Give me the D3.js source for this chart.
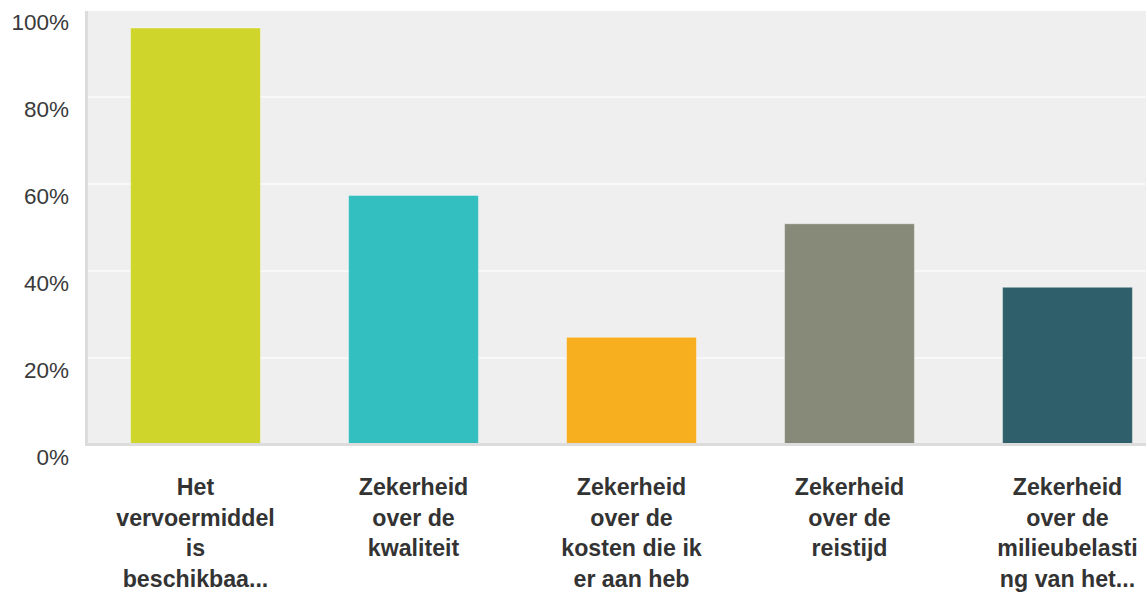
<!DOCTYPE html>
<html>
<head>
<meta charset="utf-8">
<script src="https://cdn.jsdelivr.net/npm/d3@7"></script>
<style>
  html, body { margin: 0; padding: 0; background: #ffffff; }
  svg { display: block; }
</style>
</head>
<body>
<svg id="chart" width="1146" height="594"></svg>
<script>
const categories = [
  "Het vervoermiddel is beschikbaa...",
  "Zekerheid over de kwaliteit",
  "Zekerheid over de kosten die ik er aan heb",
  "Zekerheid over de reistijd",
  "Zekerheid over de milieubelasting van het..."
];
const categoryLines = [
  ["Het", "vervoermiddel", "is", "beschikbaa..."],
  ["Zekerheid", "over de", "kwaliteit"],
  ["Zekerheid", "over de", "kosten die ik", "er aan heb"],
  ["Zekerheid", "over de", "reistijd"],
  ["Zekerheid", "over de", "milieubelasti", "ng van het..."]
];
const values = [96.2, 57.7, 25.1, 51.2, 36.6];
const colors = ["#cfd52b", "#33bebf", "#f7ae1f", "#888a79", "#2e5f6a"];
const yTicks = [0, 20, 40, 60, 80, 100];
const yTickLabels = ["0%", "20%", "40%", "60%", "80%", "100%"];

const svg = d3.select("#chart");
const plotLeft = 86, plotTop = 11, plotBottom = 446;
const x = d3.scaleBand().domain(categories).range([86.5, 1176.5]).paddingInner(0.4).paddingOuter(0.2);
const y = d3.scaleLinear().domain([0, 100]).range([446, 11]);

// plot background
svg.append("rect").attr("x", plotLeft).attr("y", plotTop)
  .attr("width", 1146 - plotLeft).attr("height", plotBottom - plotTop)
  .attr("fill", "#efefef");

// gridlines
svg.append("g").selectAll("line").data(yTicks.filter(d => d > 0 && d < 100)).join("line")
  .attr("x1", plotLeft).attr("x2", 1146)
  .attr("y1", d => y(d) - 1).attr("y2", d => y(d) - 1)
  .attr("stroke", "#f8f8f8").attr("stroke-width", 2);

// bars
svg.append("g").selectAll("rect").data(values).join("rect")
  .attr("x", (d, i) => x(categories[i]) + 0.5)
  .attr("y", d => y(d) + 0.5)
  .attr("width", x.bandwidth() - 1)
  .attr("height", d => y(0) - y(d) - 1)
  .attr("fill", (d, i) => colors[i])
  .attr("stroke", "rgba(255,255,255,0.35)")
  .attr("stroke-width", 1);

// axis shadows
svg.append("rect").attr("x", plotLeft - 1).attr("y", plotTop).attr("width", 3).attr("height", plotBottom - plotTop)
  .attr("fill", "#dcdcdc");
svg.append("rect").attr("x", plotLeft - 1).attr("y", 443).attr("width", 1146 - plotLeft + 1).attr("height", 3)
  .attr("fill", "#dcdcdc");

// y tick labels
svg.append("g").selectAll("text").data(yTicks).join("text")
  .attr("x", 69).attr("y", d => y(d) + 19)
  .attr("text-anchor", "end")
  .attr("font-family", "Liberation Sans, Arial, sans-serif")
  .attr("font-size", 22.5)
  .attr("fill", "#3a3a3a")
  .text((d, i) => yTickLabels[i]);

// category labels
const lab = svg.append("g").selectAll("text").data(categories).join("text")
  .attr("text-anchor", "middle")
  .attr("font-family", "Liberation Sans, Arial, sans-serif")
  .attr("font-weight", "bold")
  .attr("font-size", 23.2)
  .attr("fill", "#333333");
lab.each(function(d, i) {
  const cx = x(d) + x.bandwidth() / 2;
  d3.select(this).selectAll("tspan").data(categoryLines[i]).join("tspan")
    .attr("x", cx).attr("y", (t, j) => 495 + j * 30.5)
    .text(t => t);
});
</script>
</body>
</html>
